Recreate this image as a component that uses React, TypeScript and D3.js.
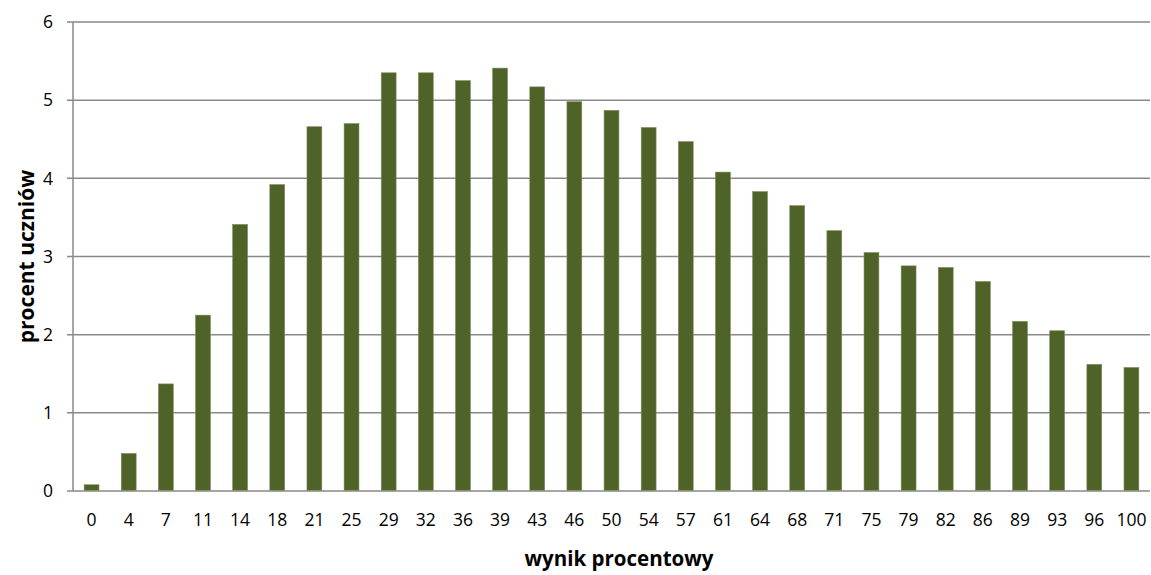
import React from "react";
import * as d3 from "d3";

const categories = ["0","4","7","11","14","18","21","25","29","32","36","39","43","46","50","54","57","61","64","68","71","75","79","82","86","89","93","96","100"];
const values = [0.08,0.48,1.37,2.25,3.41,3.92,4.66,4.70,5.35,5.35,5.25,5.41,5.17,4.98,4.87,4.65,4.47,4.08,3.83,3.65,3.33,3.05,2.88,2.86,2.68,2.17,2.05,1.62,1.58];
const yTicks = [0,1,2,3,4,5,6];
const xTitle = "wynik procentowy";
const yTitle = "procent uczniów";

const W = 1151, H = 575;
const left = 73, right = 1150, top = 22, bottom = 491;
const font = "'Open Sans', sans-serif";

export default function App() {
  const x = d3.scaleBand<string>().domain(categories).range([left, right]).paddingInner(0.6).paddingOuter(0.3);
  const y = d3.scaleLinear().domain([0, 6]).range([bottom, top]);
  const grid = "#898989";
  return (
    <svg width={W} height={H} style={{ position: "absolute", left: 0, top: 0, background: "#fff" }}>
      {yTicks.map(t => (
        <g key={t}>
          <line x1={left - 6} x2={right} y1={y(t)} y2={y(t)} stroke={grid} strokeWidth={1.5} />
          <text x={53} y={y(t)} dy="0.36em" textAnchor="end" fontFamily={font} fontSize={17.5} fill="#000">{t}</text>
        </g>
      ))}
      <line x1={left} x2={left} y1={top} y2={bottom} stroke={grid} strokeWidth={1.5} />
      {values.map((v, i) => (
        <rect key={i} x={x(categories[i])!} width={x.bandwidth()} y={y(v)} height={y(0) - y(v) - 0.75}
          fill="#4F6228" stroke="#7a8c5a" strokeWidth={0.6} />
      ))}
      {categories.map(c => (
        <text key={c} x={x(c)! + x.bandwidth() / 2} y={520} dy="0.36em" textAnchor="middle" fontFamily={font} fontSize={17.5} fill="#000">{c}</text>
      ))}
      <text x={619} y={559} dy="0.36em" textAnchor="middle" fontFamily={font} fontSize={20.5} fontWeight="bold" fill="#000">{xTitle}</text>
      <text transform={`translate(26,${(top + bottom) / 2}) rotate(-90)`} dy="0.36em" textAnchor="middle" fontFamily={font} fontSize={21} fontWeight="bold" fill="#000">{yTitle}</text>
    </svg>
  );
}
